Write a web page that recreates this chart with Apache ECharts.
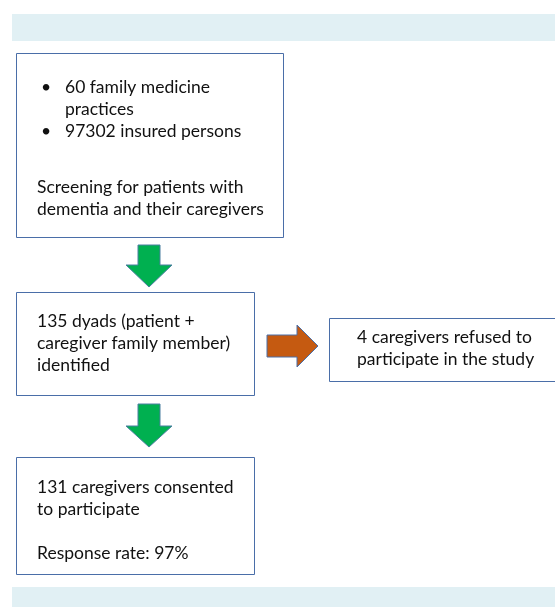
<!DOCTYPE html>
<html>
<head>
<meta charset="utf-8">
<script src="https://cdn.jsdelivr.net/npm/echarts@6/dist/echarts.min.js"></script>
<style>
  html, body { margin: 0; padding: 0; background: #fff; }
  #chart { width: 555px; height: 607px; }
</style>
</head>
<body>
<div id="chart"></div>
<script>
// study numbers
const practices = 60;
const insuredPersons = 97302;
const dyads = 135;
const refused = 4;
const consented = 131;
const responseRate = 97;

// box contents
const screeningBullets = [
  [practices + ' family medicine', 'practices'],
  [insuredPersons + ' insured persons']
];
const screeningLines = ['Screening for patients with', 'dementia and their caregivers'];
const dyadLines = [dyads + ' dyads (patient +', 'caregiver family member)', 'identified'];
const refusedLines = [refused + ' caregivers refused to', 'participate in the study'];
const consentLines = [consented + ' caregivers consented', 'to participate', '', 'Response rate: ' + responseRate + '%'];

const FONT = '17.5px Lato';
const LINE_H = 22;
const BORDER = '#4a6ea8';
const BAND = '#e1f0f4';

const myChart = echarts.init(document.getElementById('chart'));

function box(x, y, w, h) {
  return {
    type: 'rect',
    shape: { x: x + 0.5, y: y + 0.5, width: w, height: h },
    style: { fill: '#fff', stroke: BORDER, lineWidth: 1 }
  };
}

function lines(x, yFirst, arr) {
  return arr.map((t, i) => ({
    type: 'text',
    style: {
      text: t, x: x, y: yFirst + i * LINE_H,
      font: FONT, fill: '#111',
      align: 'left', verticalAlign: 'middle'
    }
  }));
}

function downArrow(cx, top, neck, tip, fill) {
  return {
    type: 'polygon',
    shape: {
      points: [
        [cx - 11, top], [cx + 11, top], [cx + 11, neck], [cx + 23, neck],
        [cx, tip], [cx - 23, neck], [cx - 11, neck]
      ]
    },
    style: { fill: fill, stroke: '#4a7fa0', lineWidth: 1 }
  };
}

const rightArrow = {
  type: 'polygon',
  shape: {
    points: [
      [267, 335], [297, 335], [297, 325], [318, 346],
      [297, 367], [297, 357], [267, 357]
    ]
  },
  style: { fill: '#c55a11', stroke: '#4a6ea8', lineWidth: 1 }
};

let bulletEls = [];
let by = 87;
screeningBullets.forEach(b => {
  bulletEls.push({
    type: 'text',
    style: { text: '•', x: 41, y: by, font: FONT, fill: '#111', align: 'left', verticalAlign: 'middle' }
  });
  bulletEls = bulletEls.concat(lines(65, by, b));
  by += b.length * LINE_H;
});

const elements = [
  { type: 'rect', shape: { x: 12, y: 14, width: 543, height: 27 }, style: { fill: BAND } },
  { type: 'rect', shape: { x: 12, y: 587, width: 543, height: 20 }, style: { fill: BAND } },
  box(16, 53, 267, 184),
  box(16, 292, 238, 103),
  box(329, 318, 230, 63),
  box(16, 457, 238, 117),
  downArrow(149, 245, 265, 287, '#00b050'),
  downArrow(149, 404, 426, 447, '#00b050'),
  rightArrow
].concat(bulletEls)
  .concat(lines(37, 187, screeningLines))
  .concat(lines(37, 321, dyadLines))
  .concat(lines(357, 337, refusedLines))
  .concat(lines(37, 487, consentLines));

const option = {
  animation: false,
  graphic: { elements: elements }
};
myChart.setOption(option);
</script>
</body>
</html>
